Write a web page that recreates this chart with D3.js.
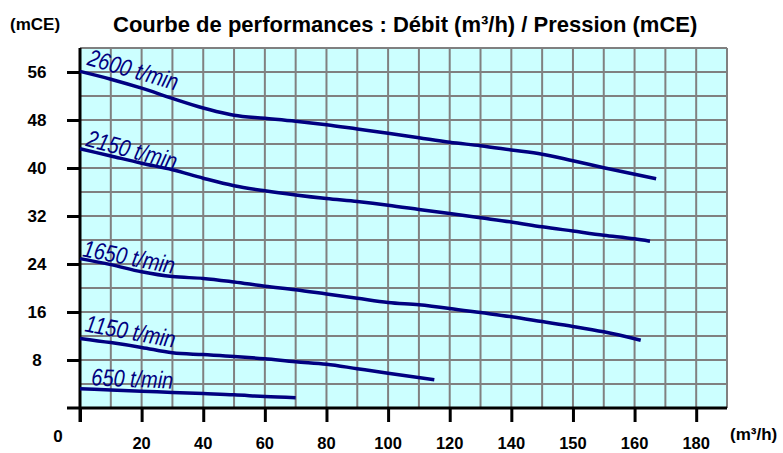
<!DOCTYPE html>
<html><head><meta charset="utf-8">
<script src="https://cdn.jsdelivr.net/npm/d3@7"></script>
<style>body{margin:0;background:#fff}svg{display:block}</style>
</head><body>
<svg id="c" width="783" height="453"></svg>
<script>
// ---- data ----
const flow2600 = [0,10,20,30,40,48,50,60,70,80,90,100,110,120,130,140,150,160,170,187];
const pres2600 = [56.1,54.8,53.3,51.6,50,49,48.8,48.3,47.8,47.2,46.5,45.8,45.05,44.3,43.7,43,42.3,41.2,40.05,38.2];
const flow2150 = [0,10,20,30,40,50,60,70,80,90,100,110,120,130,140,150,160,170,180,185];
const pres2150 = [43.2,42,40.8,39.7,38.3,37.05,36.2,35.5,34.9,34.4,33.8,33.1,32.4,31.7,31,30.2,29.5,28.8,28.2,27.8];
const flow1650 = [0,10,20,30,40,50,60,70,80,90,100,110,120,130,140,150,160,170,182];
const pres1650 = [24.9,23.9,22.7,21.9,21.6,21,20.3,19.7,19,18.3,17.6,17.2,16.6,15.9,15.2,14.4,13.6,12.7,11.3];
const flow1150 = [0,10,20,30,40,50,60,70,80,90,100,115];
const pres1150 = [11.6,10.9,10.1,9.2,8.9,8.6,8.2,7.7,7.3,6.55,5.8,4.7];
const flow650 = [0,10,20,30,40,50,60,70];
const pres650 = [3.2,3.0,2.8,2.6,2.4,2.2,1.9,1.7];
const seriesNames = ["2600 t/min","2150 t/min","1650 t/min","1150 t/min","650 t/min"];
// label anchor (data coords) and tilt
const labelFlow = [2, 1.6, 0.6, 1.3, 3.6];
const labelPres = [57.2, 43.7, 25.3, 12.8, 3.8];
const labelTilt = [16, 15, 11, 10.5, 2.5];
const xTickValues = [20,40,60,80,100,120,140,160,180,200];
const xTickLabels = ["20","40","60","80","100","120","140","150","160","180"];
const yTickValues = [8,16,24,32,40,48,56];
const title = "Courbe de performances : Débit (m³/h) / Pression (mCE)";

const svg = d3.select("#c");
const F = "'Liberation Sans', Arial, sans-serif";
const x = d3.scaleLinear().domain([0,210]).range([80,727]);
const y = d3.scaleLinear().domain([0,60]).range([408,48]);

// background
svg.append("rect").attr("x",x(0)).attr("y",y(60)).attr("width",x(210)-x(0)).attr("height",y(0)-y(60)).attr("fill","#ccffff");
// grid
const g = svg.append("g").attr("stroke","#808080").attr("stroke-width",2);
g.selectAll("line.v").data(d3.range(10,211,10)).join("line")
  .attr("x1",d=>x(d)).attr("x2",d=>x(d)).attr("y1",y(0)).attr("y2",y(60));
g.selectAll("line.h").data(d3.range(4,61,4)).join("line")
  .attr("x1",x(0)).attr("x2",x(210)).attr("y1",d=>y(d)).attr("y2",d=>y(d));

// axes
const xAxis = d3.axisBottom(x).tickValues([0,...xTickValues]).tickSize(14).tickFormat("");
const xa = svg.append("g").attr("transform",`translate(0,${y(0)})`).call(xAxis);
xa.select(".domain").remove();
xa.selectAll("line").attr("stroke","#000").attr("stroke-width",3);
svg.append("line").attr("x1",x(0)-13).attr("x2",x(210)).attr("y1",y(0)).attr("y2",y(0)).attr("stroke","#000").attr("stroke-width",3);

const yAxis = d3.axisLeft(y).tickValues(yTickValues).tickSize(13).tickFormat("");
const ya = svg.append("g").attr("transform",`translate(${x(0)},0)`).call(yAxis);
ya.select(".domain").remove();
ya.selectAll("line").attr("stroke","#000").attr("stroke-width",3);
svg.append("line").attr("x1",x(0)).attr("x2",x(0)).attr("y1",y(60)).attr("y2",y(0)+14).attr("stroke","#000").attr("stroke-width",3);

// tick labels
svg.append("g").selectAll("text").data(xTickValues).join("text")
  .attr("x",d=>x(d)).attr("y",449).attr("text-anchor","middle")
  .attr("font-family",F).attr("font-weight","bold").attr("font-size",16.5)
  .text((d,i)=>xTickLabels[i]);
svg.append("g").selectAll("text").data(yTickValues).join("text")
  .attr("x",37).attr("y",d=>y(d)+6).attr("text-anchor","middle")
  .attr("font-family",F).attr("font-weight","bold").attr("font-size",17)
  .text(d=>d);
svg.append("text").attr("x",x(0)-22).attr("y",442).attr("text-anchor","middle")
  .attr("font-family",F).attr("font-weight","bold").attr("font-size",17).text("0");

// titles
svg.append("text").attr("x",113).attr("y",32).attr("font-family",F).attr("font-weight","bold").attr("font-size",22).text(title);
svg.append("text").attr("x",10).attr("y",30).attr("font-family",F).attr("font-weight","bold").attr("font-size",17).text("(mCE)");
svg.append("text").attr("x",730).attr("y",440).attr("font-family",F).attr("font-weight","bold").attr("font-size",17).text("(m³/h)");

// curves
const flows = [flow2600,flow2150,flow1650,flow1150,flow650];
const press = [pres2600,pres2150,pres1650,pres1150,pres650];
const line = d3.line().x(d=>x(d[0])).y(d=>y(d[1])).curve(d3.curveMonotoneX);
svg.append("g").selectAll("path").data(flows.map((f,i)=>f.map((v,j)=>[v,press[i][j]]))).join("path")
  .attr("d",line).attr("fill","none").attr("stroke","#000080").attr("stroke-width",3.5);

// curve labels
svg.append("g").selectAll("text").data(seriesNames).join("text")
  .attr("transform",(d,i)=>`translate(${x(labelFlow[i])},${y(labelPres[i])}) rotate(${labelTilt[i]}) scale(0.83,1)`)
  .attr("font-family",F).attr("font-style","italic").attr("font-size",24).attr("fill","#000080")
  .text(d=>d);
</script>
</body></html>
